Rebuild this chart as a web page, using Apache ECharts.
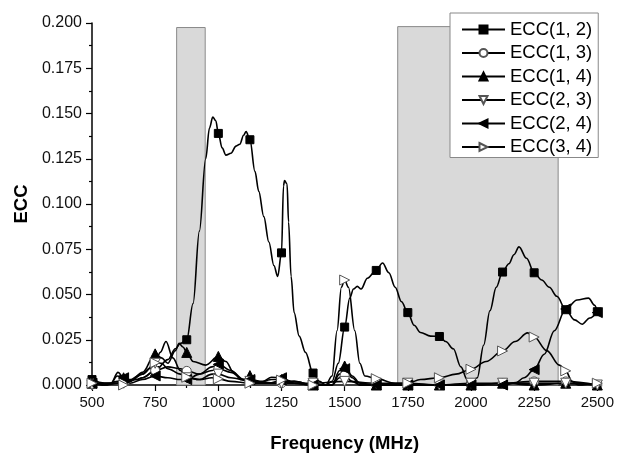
<!DOCTYPE html>
<html>
<head>
<meta charset="utf-8">
<script src="https://cdn.jsdelivr.net/npm/echarts@6/dist/echarts.min.js"></script>
<style>
  html, body { margin: 0; padding: 0; background: #fff; }
  #chart { width: 617px; height: 458px; }
</style>
</head>
<body>
<div id="chart"></div>
<script>
// Envelope correlation coefficient versus frequency, [MHz, ECC] pairs per antenna pair
const ecc12 = [[500,0.003],[550,0.001],[600,0.001],[625,0.003],[675,0.003],[700,0.004],[750,0.008],[800,0.014],[830,0.020],[850,0.023],[875,0.025],[900,0.045],[925,0.085],[950,0.125],[965,0.142],[978,0.148],[990,0.146],[1000,0.139],[1015,0.131],[1030,0.127],[1050,0.128],[1070,0.132],[1085,0.133],[1100,0.138],[1110,0.140],[1125,0.1355],[1145,0.118],[1160,0.107],[1180,0.093],[1200,0.079],[1220,0.066],[1235,0.060],[1250,0.073],[1258,0.110],[1262,0.113],[1272,0.111],[1278,0.090],[1288,0.060],[1300,0.040],[1320,0.027],[1345,0.018],[1375,0.0066],[1400,0.002],[1425,0.000],[1450,0.002],[1475,0.012],[1500,0.032],[1520,0.048],[1535,0.053],[1550,0.0545],[1565,0.053],[1590,0.059],[1625,0.0633],[1650,0.0674],[1675,0.062],[1700,0.054],[1725,0.046],[1750,0.040],[1775,0.033],[1800,0.029],[1840,0.027],[1875,0.0268],[1900,0.024],[1930,0.020],[1960,0.010],[1985,0.003],[2000,0.001],[2025,0.004],[2050,0.022],[2075,0.041],[2100,0.054],[2125,0.0624],[2150,0.067],[2170,0.072],[2190,0.0763],[2220,0.070],[2250,0.062],[2280,0.058],[2310,0.054],[2340,0.049],[2375,0.0416],[2410,0.036],[2440,0.0336],[2470,0.037],[2500,0.0405]];
const ecc13 = [[500,0.001],[550,0.000],[600,0.002],[625,0.002],[675,0.003],[700,0.004],[750,0.008],[800,0.010],[850,0.009],[875,0.0078],[925,0.006],[975,0.008],[1000,0.009],[1050,0.007],[1100,0.003],[1125,0.002],[1175,0.001],[1250,0.001],[1300,0.002],[1375,0.000],[1450,0.000],[1480,0.004],[1500,0.0053],[1530,0.002],[1560,0.000],[1625,0.000],[1750,0.000],[1875,0.000],[2000,0.000],[2125,0.001],[2250,0.002],[2375,0.002],[2500,0.000]];
const ecc14 = [[500,0.001],[575,0.001],[603,0.007],[625,0.004],[650,0.002],[700,0.007],[750,0.0172],[775,0.015],[800,0.012],[830,0.019],[845,0.023],[860,0.021],[875,0.018],[900,0.013],[950,0.011],[1000,0.0158],[1030,0.013],[1060,0.007],[1090,0.003],[1110,0.003],[1125,0.0052],[1150,0.001],[1211,0.003],[1250,0.003],[1300,0.002],[1375,0.000],[1450,0.000],[1480,0.008],[1500,0.0105],[1530,0.005],[1560,0.001],[1625,0.000],[1750,0.000],[1875,0.000],[2000,0.000],[2125,0.001],[2250,0.000],[2375,0.001],[2500,0.000]];
const ecc23 = [[500,0.000],[600,0.001],[625,0.001],[700,0.006],[750,0.012],[770,0.018],[793,0.024],[820,0.015],[850,0.008],[875,0.004],[925,0.003],[975,0.006],[1000,0.006],[1050,0.004],[1125,0.002],[1250,0.001],[1375,0.001],[1500,0.002],[1625,0.001],[1750,0.001],[1875,0.000],[2000,0.001],[2125,0.001],[2250,0.001],[2375,0.001],[2500,0.000]];
const ecc24 = [[500,0.001],[575,0.001],[600,0.005],[625,0.004],[650,0.001],[700,0.003],[750,0.005],[800,0.004],[850,0.003],[875,0.003],[925,0.006],[975,0.010],[1000,0.0114],[1050,0.008],[1100,0.003],[1125,0.003],[1175,0.002],[1211,0.0043],[1250,0.004],[1300,0.001],[1375,0.000],[1450,0.000],[1480,0.006],[1500,0.009],[1530,0.004],[1560,0.000],[1625,0.000],[1750,0.000],[1875,0.000],[2000,0.000],[2125,0.000],[2175,0.001],[2210,0.004],[2250,0.0085],[2290,0.017],[2330,0.030],[2375,0.042],[2420,0.047],[2465,0.048],[2490,0.044],[2500,0.040]];
const ecc34 = [[500,0.001],[550,0.000],[600,0.001],[625,0.000],[650,0.002],[700,0.006],[725,0.009],[750,0.0123],[775,0.012],[800,0.009],[850,0.006],[875,0.0043],[925,0.003],[975,0.004],[1000,0.0034],[1050,0.002],[1125,0.001],[1200,0.001],[1250,0.0027],[1300,0.001],[1375,0.000],[1425,0.000],[1450,0.005],[1470,0.030],[1487,0.054],[1500,0.058],[1515,0.054],[1540,0.030],[1560,0.012],[1580,0.005],[1625,0.0035],[1700,0.001],[1750,0.001],[1800,0.003],[1875,0.004],[1940,0.006],[2000,0.0087],[2060,0.013],[2125,0.0188],[2175,0.024],[2224,0.0288],[2250,0.0265],[2300,0.019],[2350,0.011],[2375,0.0078],[2400,0.002],[2425,0.000],[2500,0.001]];

// Operating bands shaded behind the curves: [start MHz, end MHz, top ECC]
const bands = [[835, 948, 0.1975], [1710, 2345, 0.198]];

const seriesNames = ['ECC(1, 2)', 'ECC(1, 3)', 'ECC(1, 4)', 'ECC(2, 3)', 'ECC(2, 4)', 'ECC(3, 4)'];
const seriesData = [ecc12, ecc13, ecc14, ecc23, ecc24, ecc34];

// Markers only every 125 MHz
const MARK_STEP = 125;

const SYM = {
  rect: 'rect',
  circle: 'circle',
  up: 'path://M5,0 L10,10 L0,10 Z',
  down: 'path://M0,0 L10,0 L5,10 Z',
  left: 'path://M0,5 L10,0 L10,10 Z',
  right: 'path://M0,0 L10,5 L0,10 Z'
};
const markerStyles = [
  { symbol: SYM.rect,   size: 8,  fill: '#000', stroke: '#000' },
  { symbol: SYM.circle, size: 9,  fill: '#fff', stroke: '#555' },
  { symbol: SYM.up,     size: 10, fill: '#000', stroke: '#000' },
  { symbol: SYM.down,   size: 10, fill: '#fff', stroke: '#555' },
  { symbol: SYM.left,   size: 10, fill: '#000', stroke: '#000' },
  { symbol: SYM.right,  size: 10, fill: '#fff', stroke: '#555' }
];

const FONT = '"Liberation Sans", Arial, Helvetica, sans-serif';

function toItems(pairs) {
  return pairs.map(function (p) {
    const item = { value: [p[0], p[1]] };
    if (p[0] % MARK_STEP !== 0) item.symbol = 'none';
    return item;
  });
}

const series = [{
  name: 'bands',
  type: 'line',
  data: [],
  silent: true,
  z: 1,
  markArea: {
    silent: true,
    itemStyle: { color: '#d9d9d9', borderColor: '#8a8a8a', borderWidth: 1 },
    data: bands.map(function (b) {
      return [{ xAxis: b[0], yAxis: 0 }, { xAxis: b[1], yAxis: b[2] }];
    })
  }
}];

seriesNames.forEach(function (name, i) {
  const m = markerStyles[i];
  series.push({
    name: name,
    type: 'line',
    data: toItems(seriesData[i]),
    smooth: 0.35,
    smoothMonotone: 'x',
    showSymbol: true,
    showAllSymbol: true,
    symbol: m.symbol,
    symbolSize: m.size,
    clip: false,
    z: 3,
    lineStyle: { color: '#000', width: 1.6 },
    itemStyle: { color: m.fill, borderColor: m.stroke, borderWidth: 1, opacity: 1 },
    emphasis: { disabled: true }
  });
});

const chart = echarts.init(document.getElementById('chart'), null, { renderer: 'canvas' });
chart.setOption({
  animation: false,
  backgroundColor: '#fff',
  textStyle: { fontFamily: FONT },
  grid: { left: 92, right: 15, top: 23, bottom: 60 },
  legend: {
    data: seriesNames,
    orient: 'vertical',
    left: 450,
    top: 13,
    padding: [7, 6, 1, 11],
    itemWidth: 43,
    itemHeight: 10,
    itemGap: 4.5,
    backgroundColor: '#fff',
    borderColor: '#888',
    borderWidth: 1,
    borderRadius: 0,
    textStyle: { fontFamily: FONT, fontSize: 18.5, color: '#000' }
  },
  xAxis: {
    type: 'value',
    min: 500,
    max: 2500,
    interval: 250,
    name: 'Frequency (MHz)',
    nameLocation: 'middle',
    nameGap: 49,
    nameTextStyle: { fontFamily: FONT, fontSize: 18.5, fontWeight: 'bold', color: '#000' },
    axisLine: { show: true, onZero: false, lineStyle: { color: '#000', width: 1.5 } },
    axisTick: { show: true, inside: false, length: 6, lineStyle: { color: '#000', width: 1.2 } },
    minorTick: { show: true, splitNumber: 2, length: 3, lineStyle: { color: '#000', width: 1.2 } },
    axisLabel: {
      fontFamily: FONT, fontSize: 15, color: '#111', margin: 10,
      formatter: function (v) { return String(v); }
    },
    splitLine: { show: false }
  },
  yAxis: {
    type: 'value',
    min: 0,
    max: 0.2,
    interval: 0.025,
    name: 'ECC',
    nameLocation: 'middle',
    nameGap: 59,
    nameTextStyle: { fontFamily: FONT, fontSize: 18.5, fontWeight: 'bold', color: '#000' },
    axisLine: { show: true, onZero: false, lineStyle: { color: '#000', width: 1.5 } },
    axisTick: { show: true, inside: false, length: 6, lineStyle: { color: '#000', width: 1.2 } },
    minorTick: { show: true, splitNumber: 2, length: 3, lineStyle: { color: '#000', width: 1.2 } },
    axisLabel: {
      fontFamily: FONT, fontSize: 16, color: '#111', margin: 10,
      formatter: function (v) { return v.toFixed(3); }
    },
    splitLine: { show: false }
  },
  series: series
});
</script>
</body>
</html>
